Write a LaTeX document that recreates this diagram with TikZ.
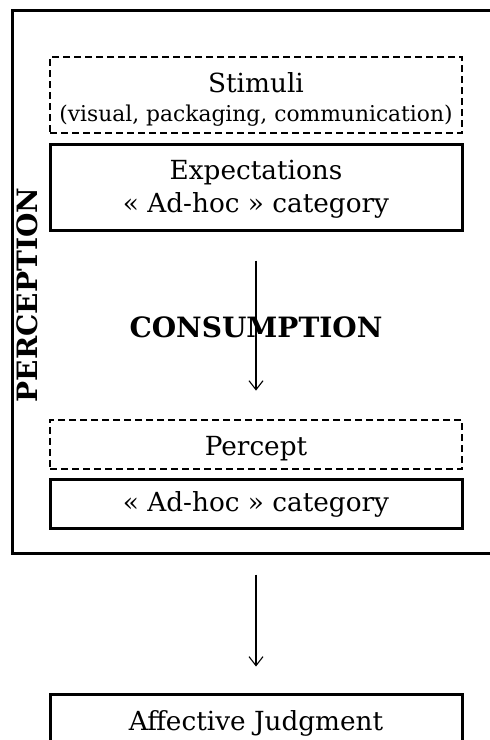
\documentclass[tikz,border=0pt]{standalone}
\usepackage{fontspec}
\setmainfont{DejaVu Serif}
\usetikzlibrary{arrows.meta}
\begin{document}
\begin{tikzpicture}[x=1pt,y=-1pt,
  solidbox/.style={draw, line width=3pt, minimum width=412pt, inner sep=0pt},
  dashbox/.style={solidbox, line width=2.8pt, dash pattern=on 7pt off 4pt},
  txt/.style={anchor=base, inner sep=0pt, font=\fontsize{26.3}{30}\selectfont},
  smalltxt/.style={anchor=base, inner sep=0pt, font=\fontsize{21.8}{26}\selectfont},
  flow/.style={-{Straight Barb[length=9pt,width=14pt]}, line width=1.1pt},
  bigbold/.style={font=\fontsize{28}{30}\selectfont\bfseries, inner sep=0pt}]
\useasboundingbox (0,0) rectangle (490,740);
\clip (0,0) rectangle (490,740);
\node[draw, line width=3pt, minimum width=488pt, minimum height=543pt, inner sep=0pt] (outer) at (256,281.5) {};
\node[dashbox, minimum height=76pt] (stim) at (256,95) {};
\node[txt] (stimt) at (256,92) {Stimuli};
\node[smalltxt] (stims) at (256,121) {(visual, packaging, communication)};
\node[solidbox, minimum height=86pt] (expect) at (256,187) {};
\node[txt] (expt1) at (256,179) {Expectations};
\node[txt] (expt2) at (256,212) {« Ad-hoc » category};
\node[bigbold, rotate=90] (perc) at (27,295) {PERCEPTION};
\node[bigbold, anchor=base] (cons) at (256,337) {CONSUMPTION};
\node[dashbox, minimum height=49pt] (percept) at (256,444.5) {};
\node[txt] (perceptt) at (256,455) {Percept};
\node[solidbox, minimum height=49pt] (adhoc) at (256,504) {};
\node[txt] (adhoct) at (256,511) {« Ad-hoc » category};
\node[solidbox, minimum height=62pt] (aff) at (256,725) {};
\node[txt] (afft) at (256,730) {Affective Judgment};
\draw[flow, shorten <=29pt, shorten >=28pt] (expect.south) -- (percept.north);
\draw[flow, shorten <=20pt, shorten >=26pt] (outer.south -| aff.north) -- (aff.north);
\end{tikzpicture}
\end{document}
